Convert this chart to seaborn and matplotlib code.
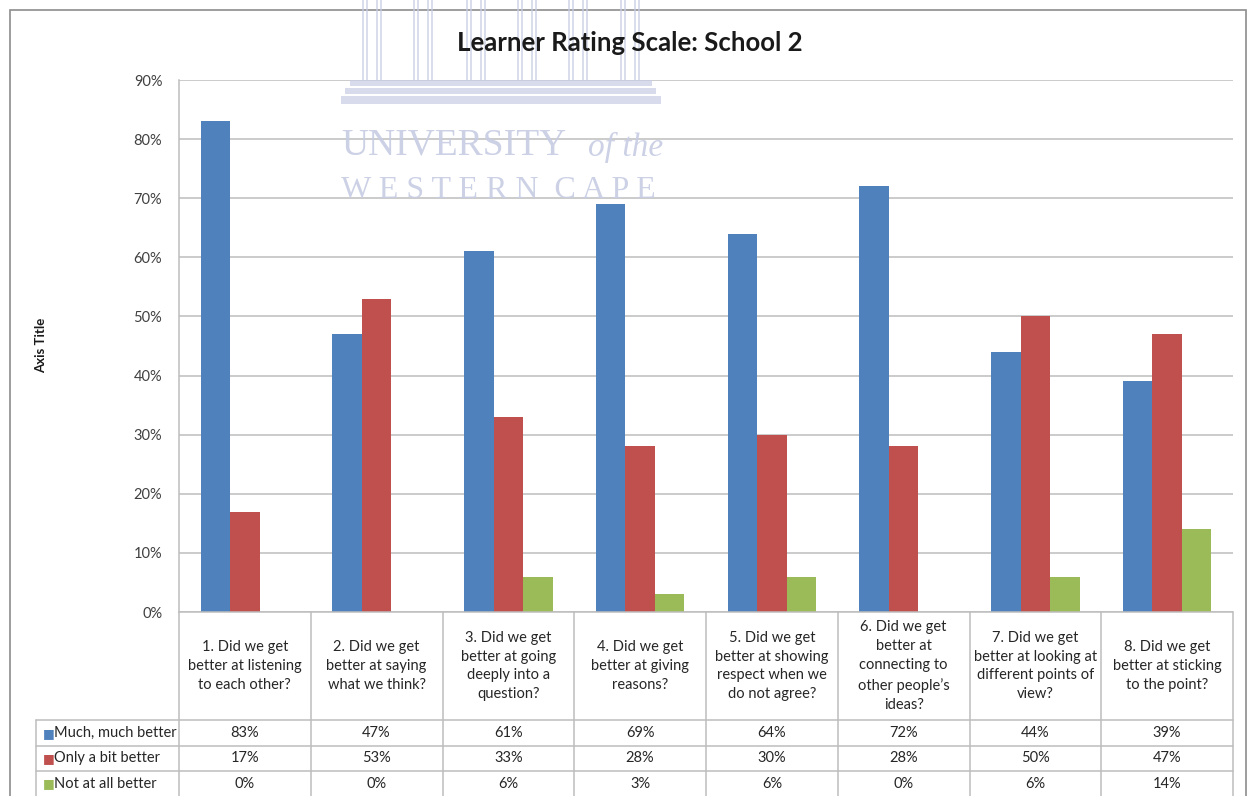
import matplotlib
matplotlib.use("Agg")
import matplotlib.pyplot as plt
import matplotlib.patches as mpatches
import numpy as np
import pandas as pd
import seaborn as sns

questions = ["1. Did we get\nbetter at listening\nto each other?",
             "2. Did we get\nbetter at saying\nwhat we think?",
             "3. Did we get\nbetter at going\ndeeply into a\nquestion?",
             "4. Did we get\nbetter at giving\nreasons?",
             "5. Did we get\nbetter at showing\nrespect when we\ndo not agree?",
             "6. Did we get\nbetter at\nconnecting to\nother people\u2019s\nideas?",
             "7. Did we get\nbetter at looking at\ndifferent points of\nview?",
             "8. Did we get\nbetter at sticking\nto the point?"]
series = ["Much, much better", "Only a bit better", "Not at all better"]
much_better = [83, 47, 61, 69, 64, 72, 44, 39]
bit_better = [17, 53, 33, 28, 30, 28, 50, 47]
not_better = [0, 0, 6, 3, 6, 0, 6, 14]
colors = ["#4F81BD", "#C0504D", "#9BBB59"]
yticks = [0, 10, 20, 30, 40, 50, 60, 70, 80, 90]

values = [much_better, bit_better, not_better]
df = pd.DataFrame({
    "question": questions * 3,
    "series": [s for s in series for _ in questions],
    "value": much_better + bit_better + not_better,
})

sns.set_theme(style="white")
plt.rcParams["font.family"] = ["Lato", "DejaVu Sans"]

W, H = 1251, 796
fig = plt.figure(figsize=(W / 100, H / 100), dpi=100)
fig.patch.set_facecolor("white")

def fx(px):
    return px / W

def fy(py):
    return 1 - py / H

# chart border
fig.add_artist(mpatches.Rectangle((fx(10), fy(800)), fx(1246) - fx(10), fy(10) - fy(800),
                                  transform=fig.transFigure, fill=False,
                                  edgecolor="#8C8C8C", linewidth=1.2))

# plot area
left, right, top, bottom = 179, 1233, 80, 612
ax = fig.add_axes([fx(left), fy(bottom), fx(right) - fx(left), fy(top) - fy(bottom)])
sns.barplot(data=df, x="question", y="value", hue="series", palette=colors,
            width=0.672, saturation=1, legend=False, ax=ax, zorder=3)
ax.set_xlim(-0.5, len(questions) - 0.5)
ax.set_ylim(0, 90)
ax.set_yticks(yticks)
ax.set_yticklabels([f"{t}%" for t in yticks], fontsize=10.5, color="#404040")
ax.set_xticks([])
ax.set_xlabel("")
ax.set_ylabel("")
ax.grid(axis="y", color="#BDBDBD", linewidth=1.1, zorder=0)
ax.tick_params(axis="y", length=0, pad=12)
for s in ["top", "right", "bottom"]:
    ax.spines[s].set_visible(False)
ax.spines["left"].set_color("#BDBDBD")
ax.spines["left"].set_linewidth(1.1)
for p in ax.patches:
    p.set_edgecolor("none")

# title and axis title
fig.text(fx(630), fy(43), "Learner Rating Scale: School 2", ha="center", va="center",
         fontsize=18.5, fontweight="bold", color="#1A1A1A")
fig.text(fx(41), fy(345), "Axis Title", ha="center", va="center", rotation=90,
         fontsize=9.5, fontweight="bold", color="#1A1A1A")

# data table below the plot
cat_w = (right - left) / len(questions)
tab_left = 36
tax = fig.add_axes([fx(tab_left), 0, fx(right) - fx(tab_left), fy(bottom)])
x0 = -0.5 - (left - tab_left) / cat_w
tax.set_xlim(x0, len(questions) - 0.5)
tax.set_ylim(H, bottom)
tax.axis("off")
row_lines = [720, 745.5, 771]
grid_c = "#BDBDBD"
tax.plot([-0.5, len(questions) - 0.5], [bottom, bottom], color=grid_c, lw=1.1, clip_on=False)
for yl in row_lines:
    tax.plot([x0, len(questions) - 0.5], [yl, yl], color=grid_c, lw=1.1, clip_on=False)
for i in range(len(questions) + 1):
    tax.plot([i - 0.5, i - 0.5], [bottom, H], color=grid_c, lw=1.1, clip_on=False)
tax.plot([x0, x0], [row_lines[0], H], color=grid_c, lw=1.1, clip_on=False)

for i, q in enumerate(questions):
    tax.text(i, (bottom + row_lines[0]) / 2, q, ha="center", va="center",
             fontsize=10.5, color="#262626", linespacing=1.45)

row_tops = row_lines
row_bots = row_lines[1:] + [H]
for r, (name, vals) in enumerate(zip(series, values)):
    yc = (row_tops[r] + row_bots[r]) / 2
    tax.text(x0 + 0.05, yc, "\u25A0", ha="left", va="center", fontsize=9, color=colors[r])
    tax.text(x0 + 0.14, yc, name, ha="left", va="center", fontsize=10.5, color="#262626")
    for i, v in enumerate(vals):
        tax.text(i, yc, f"{v}%", ha="center", va="center", fontsize=10.5, color="#262626")

# faint university watermark
wm = (0.78, 0.80, 0.89)
for cx in [372, 423, 476, 527, 578, 630]:
    for dx in [-9, -5, 5, 9]:
        fig.add_artist(plt.Line2D([fx(cx + dx), fx(cx + dx)], [fy(0), fy(80)],
                                  transform=fig.transFigure, color=wm, lw=1.2, alpha=0.8))
for (xa, xb, ya, yb) in [(350, 652, 80, 86), (345, 656, 88, 94), (341, 661, 96, 104)]:
    fig.add_artist(mpatches.Rectangle((fx(xa), fy(yb)), fx(xb) - fx(xa), fy(ya) - fy(yb),
                                      transform=fig.transFigure, facecolor=wm,
                                      edgecolor="none", alpha=0.7))
fig.text(fx(341), fy(145), "UNIVERSITY", ha="left", va="center", fontsize=27,
         family="Liberation Serif", color=wm, alpha=0.9)
fig.text(fx(588), fy(147), "of the", ha="left", va="center", fontsize=24,
         family="Liberation Serif", style="italic", color=wm, alpha=0.9)
fig.text(fx(341), fy(190), "W E S T E R N  C A P E", ha="left", va="center", fontsize=23,
         family="Liberation Serif", color=wm, alpha=0.9)

fig.savefig("out.png", dpi=100)
